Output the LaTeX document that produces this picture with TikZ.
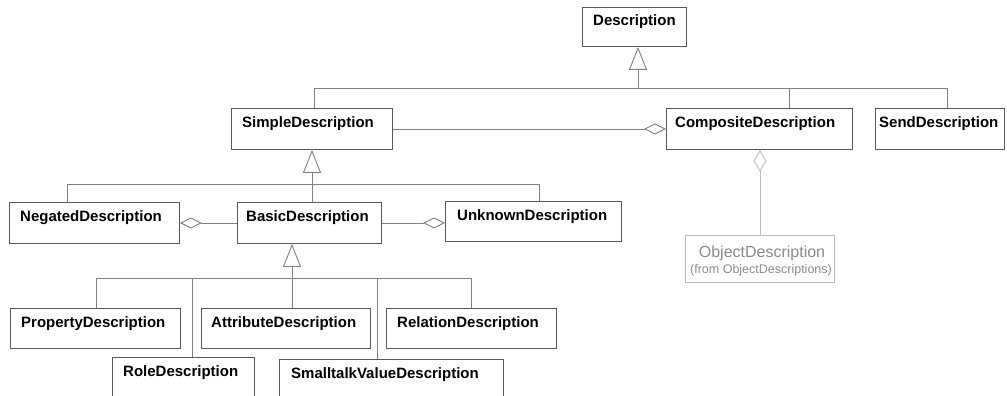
\documentclass[tikz,border=0pt]{standalone}
\usepackage{fontspec}
\setmainfont{Liberation Sans}
\usetikzlibrary{arrows.meta,calc}

\definecolor{boxline}{HTML}{5A5A5A}
\definecolor{connline}{HTML}{808080}
\definecolor{faintline}{HTML}{BDBDBD}
\definecolor{fainttext}{HTML}{8A8A8A}

\tikzset{
  classbox/.style={draw=boxline, line width=0.9pt, fill=white, inner sep=0pt, anchor=north west},
  classname/.style={anchor=base west, inner sep=0pt, font=\fontsize{15}{18}\selectfont\bfseries},
  connector/.style={draw=connline, line width=0.9pt},
  genarrow/.style={connector, -{Triangle[open, length=23pt, width=18pt, fill=white]}},
  aggarrow/.style={connector, -{Diamond[open, length=22pt, width=11pt, fill=white]}},
}

% #1 text offset, #2 name, #3..#6 corners (x1,y1,x2,y2), #7 class name
\newcommand\umlclass[7][11]{%
  \node[classbox, minimum width={#5pt-#3pt}, minimum height={#6pt-#4pt}] (#2) at (#3,#4) {};
  \node[classname] (#2-name) at ($(#2.north west)+(#1,19)$) {#7};}

\begin{document}
\begin{tikzpicture}[x=1pt, y=-1pt]
  \useasboundingbox (0,0) rectangle (1007,396);

  % classes
  \umlclass{desc}{582}{7}{686}{46}{Description}
  \umlclass{simple}{231}{108}{392}{149}{SimpleDescription}
  \umlclass[9]{comp}{666}{108}{852}{149}{CompositeDescription}
  \umlclass[4]{send}{875}{108}{1004}{149}{SendDescription}
  \umlclass{neg}{9}{202}{179}{243}{NegatedDescription}
  \umlclass[9]{basic}{237}{202}{381}{243}{BasicDescription}
  \umlclass[12]{unk}{445}{201}{621}{241}{UnknownDescription}
  \umlclass{prop}{10}{308}{180}{348}{PropertyDescription}
  \umlclass[10]{attr}{201}{308}{370}{348}{AttributeDescription}
  \umlclass{rel}{386}{308}{556}{348}{RelationDescription}
  \umlclass{role}{112}{357}{254}{402}{RoleDescription}
  \umlclass[12]{small}{279}{359}{503}{402}{SmalltalkValueDescription}

  % class from another package
  \node[draw=faintline, line width=0.9pt, inner sep=0pt, anchor=north west,
        minimum width=149pt, minimum height=47pt] (obj) at (685,235) {};
  \node[anchor=base, inner sep=0pt, text=fainttext, font=\fontsize{16}{18}\selectfont]
        (obj-name) at (762,257) {ObjectDescription};
  \node[anchor=base, inner sep=0pt, text=fainttext, font=\fontsize{12.5}{14}\selectfont]
        (obj-pkg) at (761,273) {(from ObjectDescriptions)};

  % generalization: Description
  \coordinate (d-bus) at (638,88);
  \coordinate (d-l) at (314,88);
  \coordinate (d-c) at (789,88);
  \coordinate (d-r) at (947,88);
  \draw[connector] (d-l) -- (d-r);
  \draw[connector] (simple.north -| d-l) -- (d-l);
  \draw[connector] (comp.north -| d-c) -- (d-c);
  \draw[connector] (send.north -| d-r) -- (d-r);
  \draw[genarrow] (d-bus) -- (desc.south -| d-bus);

  % generalization: SimpleDescription
  \coordinate (s-bus) at (312,184);
  \coordinate (s-l) at (67,184);
  \coordinate (s-r) at (539,184);
  \draw[connector] (s-l) -- (s-r);
  \draw[connector] (neg.north -| s-l) -- (s-l);
  \draw[connector] (basic.north -| s-bus) -- (s-bus);
  \draw[connector] (unk.north -| s-r) -- (s-r);
  \draw[genarrow] (s-bus) -- (simple.south -| s-bus);

  % generalization: BasicDescription
  \coordinate (b-bus) at (292,278);
  \coordinate (b-1) at (96,278);
  \coordinate (b-2) at (192,278);
  \coordinate (b-3) at (377,278);
  \coordinate (b-4) at (471,278);
  \draw[connector] (b-1) -- (b-4);
  \draw[connector] (prop.north -| b-1) -- (b-1);
  \draw[connector] (role.north -| b-2) -- (b-2);
  \draw[connector] (attr.north -| b-bus) -- (b-bus);
  \draw[connector] (small.north -| b-3) -- (b-3);
  \draw[connector] (rel.north -| b-4) -- (b-4);
  \draw[genarrow] (b-bus) -- (basic.south -| b-bus);

  % aggregations
  \draw[aggarrow] (simple.east) -- (simple.east -| comp.west);
  \draw[aggarrow] (basic.west) -- (basic.west -| neg.east);
  \draw[aggarrow] (basic.east) -- (basic.east -| unk.west);
  \draw[aggarrow, draw=faintline, -{Diamond[open, length=22pt, width=13pt, fill=white]}]
        (obj.north) -- (obj.north |- comp.south);
\end{tikzpicture}
\end{document}
